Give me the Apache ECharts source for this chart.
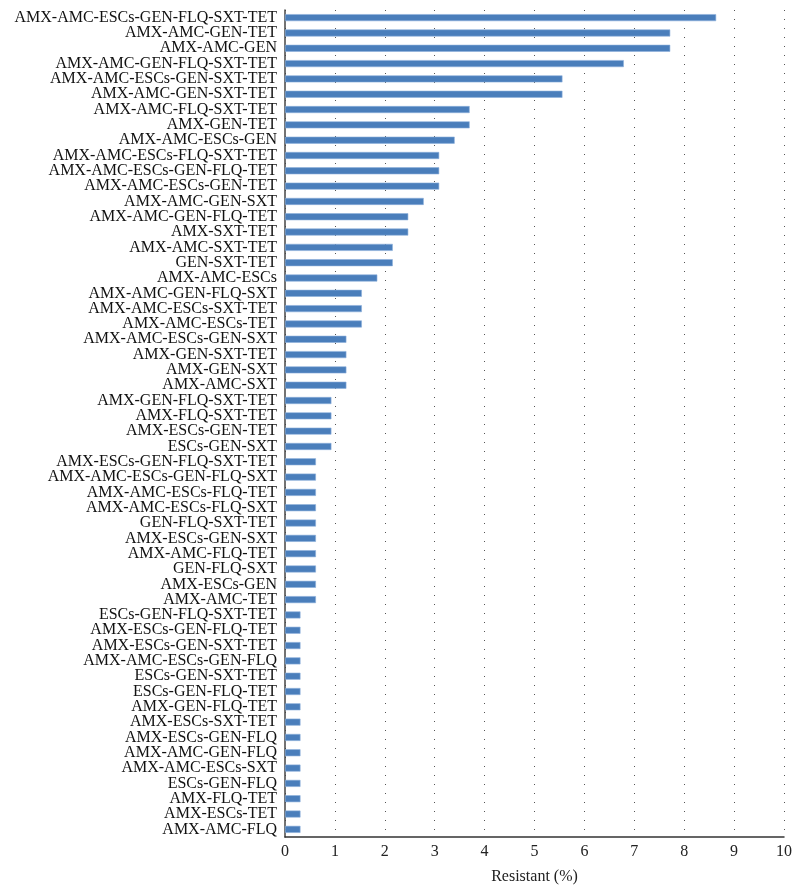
<!DOCTYPE html>
<html>
<head>
<meta charset="utf-8">
<script src="https://cdn.jsdelivr.net/npm/echarts@6/dist/echarts.min.js"></script>
<style>html,body{margin:0;padding:0;background:#fff}#c{width:800px;height:893px}</style>
</head>
<body>
<div id="c"></div>
<script>
const categories = [
"AMX-AMC-ESCs-GEN-FLQ-SXT-TET","AMX-AMC-GEN-TET","AMX-AMC-GEN","AMX-AMC-GEN-FLQ-SXT-TET",
"AMX-AMC-ESCs-GEN-SXT-TET","AMX-AMC-GEN-SXT-TET","AMX-AMC-FLQ-SXT-TET","AMX-GEN-TET",
"AMX-AMC-ESCs-GEN","AMX-AMC-ESCs-FLQ-SXT-TET","AMX-AMC-ESCs-GEN-FLQ-TET","AMX-AMC-ESCs-GEN-TET",
"AMX-AMC-GEN-SXT","AMX-AMC-GEN-FLQ-TET","AMX-SXT-TET","AMX-AMC-SXT-TET","GEN-SXT-TET",
"AMX-AMC-ESCs","AMX-AMC-GEN-FLQ-SXT","AMX-AMC-ESCs-SXT-TET","AMX-AMC-ESCs-TET",
"AMX-AMC-ESCs-GEN-SXT","AMX-GEN-SXT-TET","AMX-GEN-SXT","AMX-AMC-SXT",
"AMX-GEN-FLQ-SXT-TET","AMX-FLQ-SXT-TET","AMX-ESCs-GEN-TET","ESCs-GEN-SXT",
"AMX-ESCs-GEN-FLQ-SXT-TET","AMX-AMC-ESCs-GEN-FLQ-SXT","AMX-AMC-ESCs-FLQ-TET","AMX-AMC-ESCs-FLQ-SXT",
"GEN-FLQ-SXT-TET","AMX-ESCs-GEN-SXT","AMX-AMC-FLQ-TET","GEN-FLQ-SXT","AMX-ESCs-GEN","AMX-AMC-TET",
"ESCs-GEN-FLQ-SXT-TET","AMX-ESCs-GEN-FLQ-TET","AMX-ESCs-GEN-SXT-TET","AMX-AMC-ESCs-GEN-FLQ",
"ESCs-GEN-SXT-TET","ESCs-GEN-FLQ-TET","AMX-GEN-FLQ-TET","AMX-ESCs-SXT-TET","AMX-ESCs-GEN-FLQ",
"AMX-AMC-GEN-FLQ","AMX-AMC-ESCs-SXT","ESCs-GEN-FLQ","AMX-FLQ-TET","AMX-ESCs-TET","AMX-AMC-FLQ"
];
const resistant = [
8.64,7.72,7.72,6.79,
5.56,5.56,3.70,3.70,
3.40,3.09,3.09,3.09,
2.78,2.47,2.47,2.16,2.16,
1.85,1.54,1.54,1.54,
1.23,1.23,1.23,1.23,
0.93,0.93,0.93,0.93,
0.62,0.62,0.62,0.62,
0.62,0.62,0.62,0.62,0.62,0.62,
0.31,0.31,0.31,0.31,
0.31,0.31,0.31,0.31,0.31,
0.31,0.31,0.31,0.31,0.31,0.31
];
const xTicks = [0,1,2,3,4,5,6,7,8,9,10];
const font = "'Liberation Serif', 'DejaVu Serif', serif";
const chart = echarts.init(document.getElementById('c'));
chart.setOption({
  animation: false,
  backgroundColor: '#fff',
  grid: {left: 285, right: 16, top: 10, bottom: 56, containLabel: false},
  xAxis: {
    type: 'value', min: xTicks[0], max: xTicks[xTicks.length-1], interval: 1,
    name: 'Resistant (%)', nameLocation: 'middle', nameGap: 32,
    nameTextStyle: {fontFamily: font, fontSize: 16, color: '#222'},
    axisLine: {show: true, lineStyle: {color: '#333', width: 1.5}},
    axisTick: {show: false},
    axisLabel: {fontFamily: font, fontSize: 16, color: '#222', margin: 7},
    splitLine: {show: true, lineStyle: {color: '#555', width: 1, type: [1, 8]}}
  },
  yAxis: {
    type: 'category', data: categories, inverse: true,
    axisLine: {show: true, lineStyle: {color: '#444', width: 1.5}},
    axisTick: {show: false},
    axisLabel: {fontFamily: font, fontSize: 16, color: '#111', margin: 8, interval: 0},
    splitLine: {show: false}
  },
  series: [{
    type: 'bar', data: resistant, barWidth: 7,
    itemStyle: {color: '#4a7ebb', borderColor: '#8db0dc', borderWidth: 0.6}
  }]
});
</script>
</body>
</html>
